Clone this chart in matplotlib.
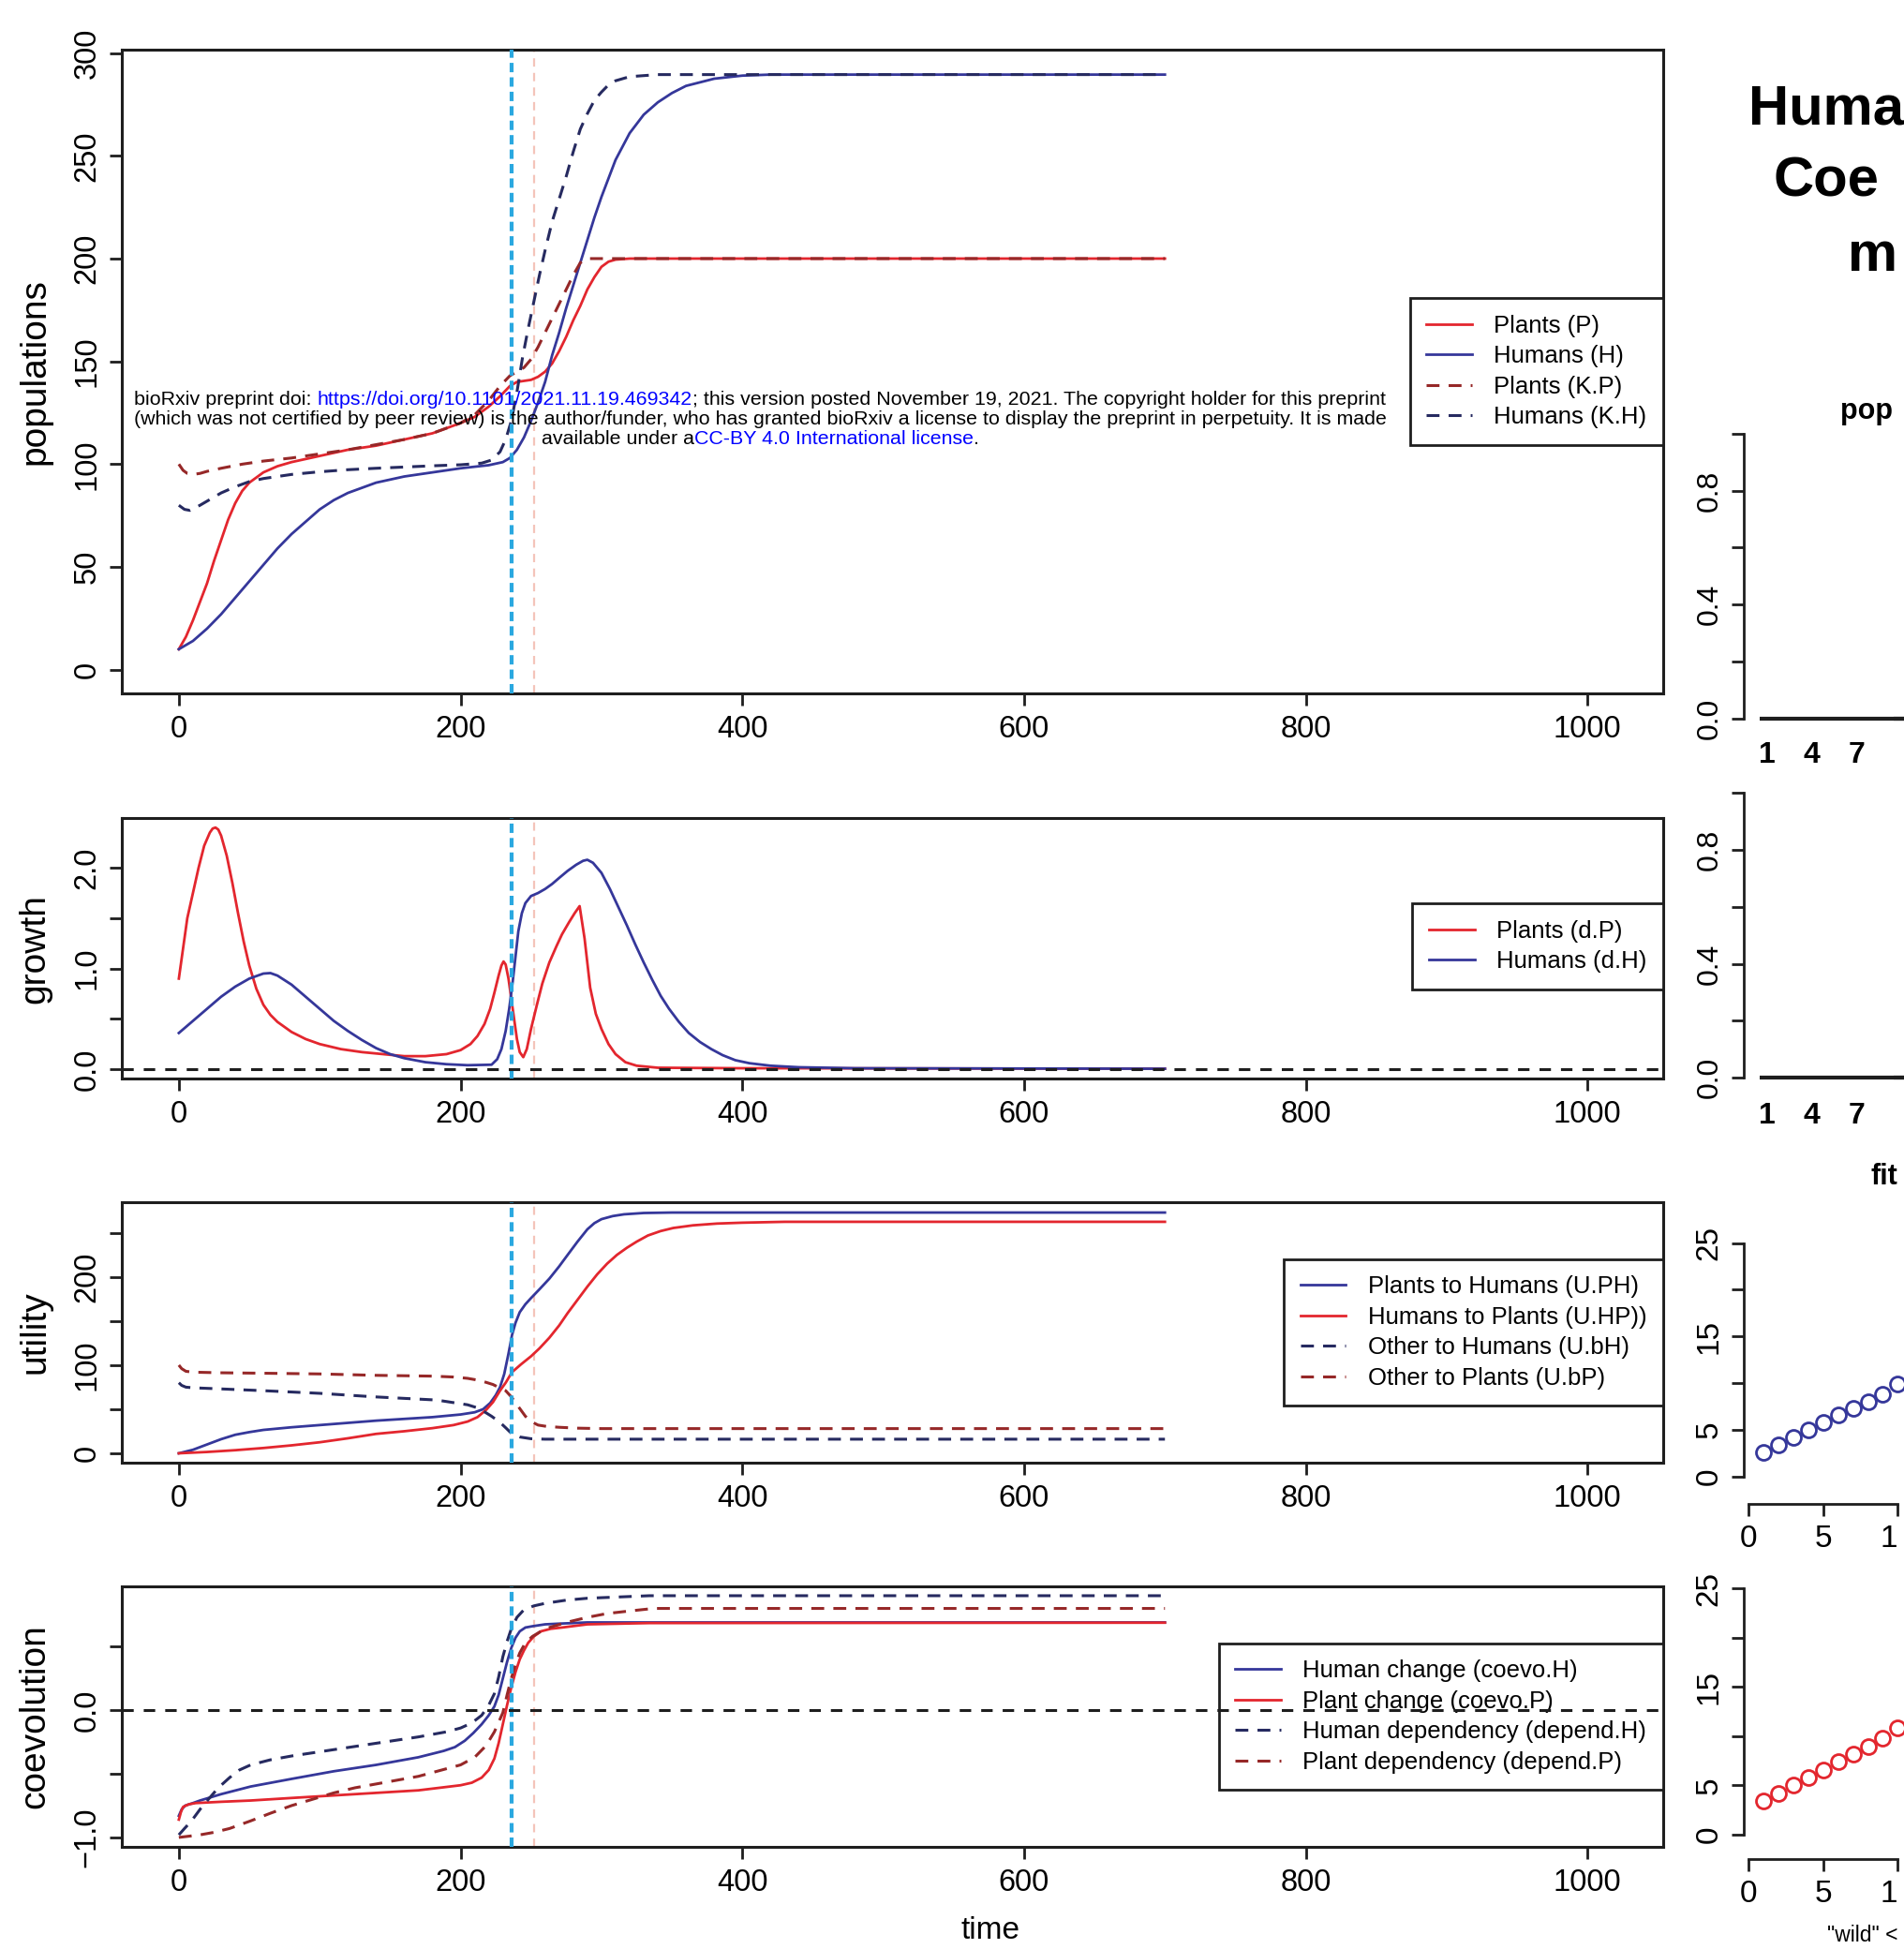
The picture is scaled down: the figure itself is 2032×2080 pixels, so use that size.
import numpy as np
import matplotlib
matplotlib.use("Agg")
import matplotlib.pyplot as plt

plt.rcParams['font.family'] = ['Liberation Sans', 'DejaVu Sans']

# ---------------- data ----------------
# populations
t_P = [0, 5, 10, 15, 20, 25, 30, 35, 40, 45, 50, 60, 70, 80, 100, 120, 140, 160, 180, 200, 210, 220, 228,
       235, 240, 245, 250, 255, 260, 265, 270, 275, 280, 285, 290, 295, 300, 305, 310, 320, 340, 700]
P = [10, 16, 24, 33, 42, 53, 63, 73, 81, 87, 91, 96, 99, 101, 104, 107, 109, 112, 115, 120, 123, 128, 133,
     138, 140, 140.5, 141, 142.5, 145, 149, 155, 162, 170, 177, 185, 191, 196, 198.5, 199.5, 200, 200, 200]
t_KP = [0, 3, 6, 10, 15, 20, 30, 45, 60, 80, 100, 120, 140, 160, 180, 200, 210, 220, 228, 235, 240, 245,
        250, 255, 260, 265, 270, 275, 280, 285, 290, 700]
KP = [100, 97, 95.5, 95, 95.5, 96.5, 98, 100, 101.5, 103, 105, 107, 109.5, 112, 115, 120, 124, 131, 138,
      143, 145, 147, 151, 157, 164, 171, 178, 185, 192, 198, 200, 200]
t_H = [0, 10, 20, 30, 40, 50, 60, 70, 80, 90, 100, 110, 120, 130, 140, 160, 180, 200, 220, 230, 235, 240,
       245, 250, 255, 260, 265, 270, 275, 280, 285, 290, 295, 300, 305, 310, 320, 330, 340, 350, 360, 380,
       400, 420, 700]
Hh = [10, 14, 20, 27, 35, 43, 51, 59, 66, 72, 78, 82.5, 86, 88.5, 91, 94, 96, 98, 99.5, 101, 103, 107,
      113, 121, 130, 140, 153, 164, 176, 187, 198, 209, 220, 230, 239, 248, 261, 270, 276, 280.5, 284,
      287.5, 289, 289.5, 289.5]
t_KH = [0, 4, 8, 15, 20, 30, 40, 50, 60, 80, 100, 120, 140, 160, 180, 200, 215, 222, 228, 232, 236, 240,
        244, 248, 252, 256, 260, 265, 270, 275, 280, 285, 290, 295, 300, 305, 310, 320, 340, 700]
KH = [80, 78, 77.5, 80, 82, 86, 89, 91.5, 93, 95, 96.3, 97.3, 98, 98.6, 99.2, 99.7, 100.5, 102, 106, 112,
      121, 135, 152, 166, 179, 192, 204, 218, 229, 240, 252, 263, 270.5, 277, 281, 284.5, 286.5, 288.5,
      289.5, 289.5]

# growth
t_dP = [0, 3, 6, 10, 14, 18, 22, 24, 26, 28, 30, 34, 38, 42, 46, 50, 55, 60, 65, 70, 80, 90, 100, 115,
        130, 145, 160, 175, 190, 200, 207, 212, 217, 221, 224, 227, 229, 230.5, 232, 234, 237, 240, 242,
        244.5, 247, 250, 254, 258, 263, 268, 272, 277, 281, 284.5, 288, 292, 296, 300, 305, 310, 317, 325,
        340, 400, 700]
dP = [0.9, 1.2, 1.5, 1.75, 2.0, 2.22, 2.35, 2.39, 2.4, 2.38, 2.32, 2.12, 1.85, 1.55, 1.27, 1.03, 0.8,
      0.64, 0.54, 0.47, 0.37, 0.3, 0.25, 0.2, 0.17, 0.15, 0.13, 0.13, 0.15, 0.19, 0.25, 0.33, 0.45, 0.6,
      0.76, 0.93, 1.03, 1.07, 1.04, 0.9, 0.6, 0.3, 0.17, 0.12, 0.2, 0.4, 0.63, 0.85, 1.06, 1.22, 1.34,
      1.46, 1.55, 1.62, 1.3, 0.81, 0.55, 0.4, 0.25, 0.15, 0.07, 0.035, 0.015, 0.01, 0.005]
t_dH = [0, 10, 20, 30, 40, 50, 60, 65, 70, 80, 90, 100, 110, 120, 130, 140, 150, 160, 175, 190, 205, 222,
        226, 229, 232, 234.5, 237, 239, 241, 243.5, 246, 250, 255, 260, 265, 270, 276, 282, 287, 290, 294,
        300, 306, 312, 318, 324, 330, 336, 342, 348, 355, 362, 370, 378, 386, 395, 405, 420, 440, 480, 700]
dH = [0.36, 0.48, 0.6, 0.72, 0.82, 0.9, 0.95, 0.955, 0.93, 0.84, 0.72, 0.6, 0.48, 0.38, 0.29, 0.21, 0.15,
      0.11, 0.07, 0.05, 0.04, 0.045, 0.1, 0.2, 0.38, 0.6, 0.87, 1.12, 1.37, 1.55, 1.65, 1.72, 1.75, 1.79,
      1.84, 1.9, 1.97, 2.03, 2.07, 2.08, 2.05, 1.95, 1.79, 1.61, 1.43, 1.24, 1.06, 0.89, 0.73, 0.6, 0.47,
      0.36, 0.27, 0.2, 0.14, 0.09, 0.06, 0.035, 0.02, 0.01, 0.005]

# utility
t_UPH = [0, 10, 20, 30, 40, 50, 60, 80, 100, 120, 140, 160, 180, 200, 210, 216, 221, 225, 228, 231, 234,
         236.5, 239, 242, 246, 250, 256, 263, 270, 276, 283, 290, 295, 300, 308, 316, 330, 350, 700]
UPH = [0, 4, 10, 16, 21, 24, 26.5, 29.5, 32, 34.5, 37, 39, 41, 44, 46.5, 50, 57, 66, 75, 90, 113, 134,
       148, 160, 169, 176, 186, 198, 212, 225, 240, 254, 261, 265.5, 269, 271, 272.5, 273, 273]
t_UHP = [0, 20, 40, 60, 80, 100, 120, 140, 160, 180, 195, 205, 212, 218, 223, 228, 232, 236.5, 243, 250,
         256, 263, 270, 276, 283, 290, 297, 304, 311, 318, 325, 333, 342, 351, 365, 382, 400, 430, 700]
UHP = [0, 1.5, 3.5, 6, 9, 12.5, 17, 22, 25, 28.5, 32, 36, 41, 49, 58, 71, 80, 92, 101, 110, 119, 131,
       145, 159, 174, 189, 203, 215, 225, 233, 240, 247, 252, 255.5, 258.5, 260.5, 261.5, 262.5, 262.5]
t_UbH = [0, 2, 5, 10, 30, 60, 100, 139, 183, 205, 211, 216, 222, 228, 232, 236.5, 242, 250, 260, 700]
UbH = [80, 77, 75, 74.3, 73, 71, 68, 64, 60.4, 55, 52, 48, 42, 35, 29, 22, 18.5, 16.5, 16, 16]
t_UbP = [0, 2, 5, 10, 30, 60, 100, 140, 180, 195, 205, 212, 218, 223, 228, 232, 236, 241, 246, 250, 255,
         261, 270, 283, 300, 700]
UbP = [100, 96, 93, 92, 91.3, 90.8, 90, 88.4, 87.5, 86.5, 85, 83, 80.5, 78, 74, 71, 64, 53, 42, 36, 32,
       30.5, 29.5, 28.5, 28, 28]

# coevolution
t_cH = [0, 2, 4.5, 10, 15, 30, 51, 80, 110, 140, 170, 188, 196, 203, 209, 215, 220, 224, 227, 230, 233,
        236, 239, 242, 246, 251, 260, 269, 290, 700]
cH = [-0.83, -0.78, -0.75, -0.73, -0.71, -0.66, -0.6, -0.54, -0.48, -0.43, -0.37, -0.32, -0.29, -0.24,
      -0.18, -0.11, -0.04, 0.03, 0.12, 0.25, 0.38, 0.49, 0.57, 0.62, 0.65, 0.66, 0.675, 0.68, 0.69, 0.69]
t_cP = [0, 1.5, 3, 7, 12, 30, 51, 80, 110, 140, 170, 200, 208, 215, 220, 224, 227, 230, 233, 236, 239,
        242, 245, 248, 252, 257, 264, 272, 290, 334, 700]
cP = [-0.86, -0.8, -0.76, -0.74, -0.73, -0.72, -0.71, -0.69, -0.67, -0.65, -0.63, -0.59, -0.57, -0.53,
      -0.47, -0.38, -0.26, -0.11, 0.04, 0.18, 0.3, 0.4, 0.47, 0.53, 0.58, 0.62, 0.64, 0.65, 0.675, 0.685,
      0.688]
t_dpH = [0, 4, 9, 15, 21, 28, 36, 43, 51, 65, 80, 110, 140, 170, 190, 200, 208, 215, 220, 224, 227, 230,
         233, 236, 240, 245, 252, 260, 275, 290, 334, 700]
dpH = [-0.98, -0.93, -0.87, -0.78, -0.7, -0.61, -0.53, -0.47, -0.43, -0.39, -0.36, -0.31, -0.26, -0.21,
       -0.17, -0.14, -0.1, -0.04, 0.04, 0.13, 0.26, 0.42, 0.54, 0.64, 0.73, 0.79, 0.82, 0.84, 0.865, 0.88,
       0.9, 0.9]
t_dpP = [0, 15, 25, 36, 51, 65, 80, 95, 110, 125, 140, 170, 200, 210, 218, 224, 230, 233, 236, 239, 242,
         246, 251, 260, 275, 290, 304, 320, 337, 700]
dpP = [-1.0, -0.98, -0.96, -0.93, -0.87, -0.81, -0.75, -0.7, -0.65, -0.61, -0.58, -0.52, -0.43, -0.37,
       -0.28, -0.17, -0.02, 0.12, 0.25, 0.36, 0.45, 0.53, 0.58, 0.64, 0.69, 0.73, 0.76, 0.78, 0.8, 0.8]

# transition markers
t_switch = 236
t_switch2 = 252

# right-hand (cropped) panels
bar_x = [1, 2, 3, 4, 5, 6, 7, 8, 9, 10]
pop_vals = [0, 0, 0, 0, 0, 0, 0, 0, 0, 0]
grow_vals = [0, 0, 0, 0, 0, 0, 0, 0, 0, 0]
bar_labels = ['1', '', '', '4', '', '', '7', '', '', '']
fit_x = [1, 2, 3, 4, 5, 6, 7, 8, 9, 10]
fit_H = [2.6, 3.4, 4.2, 5.0, 5.8, 6.6, 7.3, 8.0, 8.8, 9.9]
fit_P = [3.4, 4.2, 5.0, 5.8, 6.6, 7.4, 8.2, 8.9, 9.8, 10.8]
fit_xlabels = ['0', '5', '1']   # the "10" label is cropped to "1" in the source image

# ---------------- styling ----------------
RED = '#E3262E'
BLUE = '#35379A'
DRED = '#962828'
DBLUE = '#262A60'
CYAN = '#2AA8E0'
PINK = '#F4C4BA'
INK = '#1e1e1e'
DASH = (0, (4.5, 3.2))

W, H = 1532.0, 1568.0
FW, FH = 2032, 2080


def fx(x):
    return x / W


def fy(y):
    return 1 - y / H


def box(x0, y0, x1, y1):
    return [fx(x0), fy(y1), fx(x1) - fx(x0), fy(y0) - fy(y1)]


fig = plt.figure(figsize=(FW / 100, FH / 100), dpi=100)

TICK_FS = 23.5
LAB_FS = 28
LEG_FS = 18.5


def style_main(ax, ylim, yticks, ylabels, ylabel):
    ax.set_xlim(-40.5, 1053.5)
    ax.set_ylim(*ylim)
    ax.set_xticks([0, 200, 400, 600, 800, 1000])
    ax.set_xticklabels(['0', '200', '400', '600', '800', '1000'])
    ax.set_yticks(yticks)
    ax.set_yticklabels(ylabels, rotation=90, va='center')
    for s in ax.spines.values():
        s.set_linewidth(2.2)
        s.set_color(INK)
    ax.tick_params(direction='out', length=9.5, width=2, labelsize=TICK_FS, pad=6, color=INK)
    ax.tick_params(axis='x', pad=7)
    ax.set_ylabel(ylabel, fontsize=LAB_FS, va='center')
    ax.yaxis.set_label_coords(-0.0565, 0.5)
    ax.axvline(t_switch, color=CYAN, lw=3, ls=(0, (2.4, 1.3)), zorder=4)
    ax.axvline(t_switch2, color=PINK, lw=1.6, ls=(0, (4, 3)), zorder=1)


def add_legend(ax, handles, labels, top):
    leg = ax.legend(handles, labels, loc='upper right', bbox_to_anchor=(1.0, top), borderaxespad=0,
                    frameon=True, fancybox=False, framealpha=1, edgecolor=INK, fontsize=LEG_FS,
                    handlelength=1.9, handletextpad=0.9, labelspacing=0.33, borderpad=0.68)
    leg.get_frame().set_linewidth(2)
    leg.set_zorder(5)
    return leg


LX0, LX1 = 98, 1338

# ---- populations ----
ax1 = fig.add_axes(box(LX0, 40, LX1, 558))
l1, = ax1.plot(t_P, P, color=RED, lw=2)
l2, = ax1.plot(t_H, Hh, color=BLUE, lw=2)
l3, = ax1.plot(t_KP, KP, color=DRED, lw=2.2, ls=DASH)
l4, = ax1.plot(t_KH, KH, color=DBLUE, lw=2.2, ls=DASH)
style_main(ax1, (-11.6, 301.6), [0, 50, 100, 150, 200, 250, 300],
           ['0', '50', '100', '150', '200', '250', '300'], 'populations')
add_legend(ax1, [l1, l2, l3, l4], ['Plants (P)', 'Humans (H)', 'Plants (K.P)', 'Humans (K.H)'],
           (558 - 240) / 518)

# ---- growth ----
ax2 = fig.add_axes(box(LX0, 658, LX1, 868))
g1, = ax2.plot(t_dP, dP, color=RED, lw=2)
g2, = ax2.plot(t_dH, dH, color=BLUE, lw=2)
ax2.axhline(0, color=INK, lw=2.2, ls=(0, (4, 3.5)), zorder=6)
style_main(ax2, (-0.096, 2.496), [0, 0.5, 1.0, 1.5, 2.0], ['0.0', '', '1.0', '', '2.0'], 'growth')
add_legend(ax2, [g1, g2], ['Plants (d.P)', 'Humans (d.H)'], (868 - 727) / 210)

# ---- utility ----
ax3 = fig.add_axes(box(LX0, 967, LX1, 1177))
u1, = ax3.plot(t_UPH, UPH, color=BLUE, lw=2)
u2, = ax3.plot(t_UHP, UHP, color=RED, lw=2)
u3, = ax3.plot(t_UbH, UbH, color=DBLUE, lw=2.2, ls=DASH)
u4, = ax3.plot(t_UbP, UbP, color=DRED, lw=2.2, ls=DASH)
style_main(ax3, (-11, 285), [0, 50, 100, 150, 200, 250], ['0', '', '100', '', '200', ''], 'utility')
add_legend(ax3, [u1, u2, u3, u4],
           ['Plants to Humans (U.PH)', 'Humans to Plants (U.HP))', 'Other to Humans (U.bH)',
            'Other to Plants (U.bP)'], (1177 - 1013) / 210)

# ---- coevolution ----
ax4 = fig.add_axes(box(LX0, 1276, LX1, 1486))
c1, = ax4.plot(t_cH, cH, color=BLUE, lw=2)
c2, = ax4.plot(t_cP, cP, color=RED, lw=2)
c3, = ax4.plot(t_dpH, dpH, color=DBLUE, lw=2.2, ls=DASH)
c4, = ax4.plot(t_dpP, dpP, color=DRED, lw=2.2, ls=DASH)
ax4.axhline(0, color=INK, lw=2.2, ls=(0, (4, 3.5)), zorder=6)
style_main(ax4, (-1.076, 0.976), [-1.0, -0.5, 0.0, 0.5], ['\u22121.0', '', '0.0', ''], 'coevolution')
add_legend(ax4, [c1, c2, c3, c4],
           ['Human change (coevo.H)', 'Plant change (coevo.P)', 'Human dependency (depend.H)',
            'Plant dependency (depend.P)'], (1486 - 1322) / 210)

fig.text(fx(797), fy(1553), 'time', fontsize=24, ha='center', va='center')

# ---------------- right-hand (cropped) panels ----------------
R_FS = 23


def style_right_bar(ax, yb, yt):
    ax.set_xlim(-0.583, 16.08)
    ax.set_ylim(yb, yt)
    for k in ('top', 'right', 'bottom'):
        ax.spines[k].set_visible(False)
    ax.spines['left'].set_bounds(0, 1)
    ax.spines['left'].set_linewidth(2)
    ax.spines['left'].set_color(INK)
    ax.set_yticks([0, 0.2, 0.4, 0.6, 0.8, 1.0])
    ax.set_yticklabels(['0.0', '', '0.4', '', '0.8', ''], rotation=90, va='center')
    ax.set_xticks(bar_x)
    ax.set_xticklabels(bar_labels, fontweight='bold')
    ax.tick_params(axis='y', direction='out', length=9.5, width=2, labelsize=R_FS, pad=6, color=INK)
    ax.tick_params(axis='x', length=0, labelsize=R_FS, pad=6)
    ax.patch.set_alpha(0)


axA = fig.add_axes(box(1403, 340, 1603, 590))
axA.bar(bar_x, pop_vals, width=1.0, color='none', edgecolor=INK, linewidth=3)
style_right_bar(axA, -0.0524, 1.0393)

axB = fig.add_axes(box(1403, 628, 1603, 880))
axB.bar(bar_x, grow_vals, width=1.0, color='none', edgecolor=INK, linewidth=3)
style_right_bar(axB, -0.0568, 1.0437)


def style_right_fit(ax, yb, yt):
    ax.set_xlim(-0.333, 16.33)
    ax.set_ylim(yb, yt)
    for k in ('top', 'right'):
        ax.spines[k].set_visible(False)
    ax.spines['left'].set_bounds(0, 25)
    ax.spines['bottom'].set_bounds(0, 10)
    for k in ('left', 'bottom'):
        ax.spines[k].set_linewidth(2)
        ax.spines[k].set_color(INK)
    ax.set_yticks([0, 5, 10, 15, 20, 25])
    ax.set_yticklabels(['0', '5', '', '15', '', '25'], rotation=90, va='center')
    ax.set_xticks([0, 5, 10])
    ax.set_xticklabels(fit_xlabels)
    ax.get_xticklabels()[-1].set_ha('right')
    ax.tick_params(direction='out', length=9.5, width=2, labelsize=24, pad=6, color=INK)
    ax.patch.set_alpha(0)


axC = fig.add_axes(box(1403, 990, 1603, 1210))
axC.plot(fit_x, fit_H, 'o', mfc='none', mec=BLUE, ms=11.5, mew=2)
style_right_fit(axC, -2.93, 26.33)

axD = fig.add_axes(box(1403, 1268, 1603, 1496))
axD.plot(fit_x, fit_P, 'o', mfc='none', mec=RED, ms=11.5, mew=2)
style_right_fit(axD, -2.53, 26.26)

# visible fragments of the cropped right-hand titles
fig.text(fx(1407), fy(100), 'Huma', fontsize=43, fontweight='bold', ha='left', va='baseline')
fig.text(fx(1427), fy(158), 'Coe', fontsize=43, fontweight='bold', ha='left', va='baseline')
fig.text(fx(1487), fy(218), 'm', fontsize=43, fontweight='bold', ha='left', va='baseline')
fig.text(fx(1481), fy(331), 'pop', fontsize=22, fontweight='bold', ha='left', va='center')
fig.text(fx(1505), fy(947), 'fit', fontsize=22, fontweight='bold', ha='left', va='center')
fig.text(fx(1470), fy(1557), '"wild" <', fontsize=16.5, ha='left', va='center')

# ---------------- bioRxiv watermark ----------------
renderer = fig.canvas.get_renderer()
WM_FAMILY = ['Liberation Sans', 'DejaVu Sans']


def measure(s, fs):
    t = fig.text(0, 0, s, fontsize=fs, family=WM_FAMILY)
    w = t.get_window_extent(renderer).width
    t.remove()
    return w


line1 = [('bioRxiv preprint doi: ', 'black'), ('https://doi.org/10.1101/2021.11.19.469342', 'blue'),
         ('; this version posted November 19, 2021. The copyright holder for this preprint', 'black')]
line2 = [('(which was not certified by peer review) is the author/funder, who has granted bioRxiv a '
          'license to display the preprint in perpetuity. It is made', 'black')]
line3 = [('available under a', 'black'), ('CC-BY 4.0 International license', 'blue'), ('.', 'black')]

fs0 = 11.0
target = (1113 - 110) / W * FW
wm_fs = fs0 * target / measure(''.join(s for s, _ in line1), fs0)
bar_w = measure('|', wm_fs)


def draw_line(parts, xc, yc):
    full = ''.join(s for s, _ in parts)
    total = measure(full, wm_fs)
    x0 = xc / W * FW - total / 2
    prefix = ''
    for s, c in parts:
        off = 0 if prefix == '' else measure(prefix + '|', wm_fs) - bar_w
        fig.text((x0 + off) / FW, fy(yc), s, fontsize=wm_fs, family=WM_FAMILY, color=c,
                 ha='left', va='center', zorder=20)
        prefix += s


draw_line(line1, 611.5, 321.5)
draw_line(line2, 611.5, 337.5)
draw_line(line3, 611.5, 353.5)

fig.savefig('out.png', dpi=100)
